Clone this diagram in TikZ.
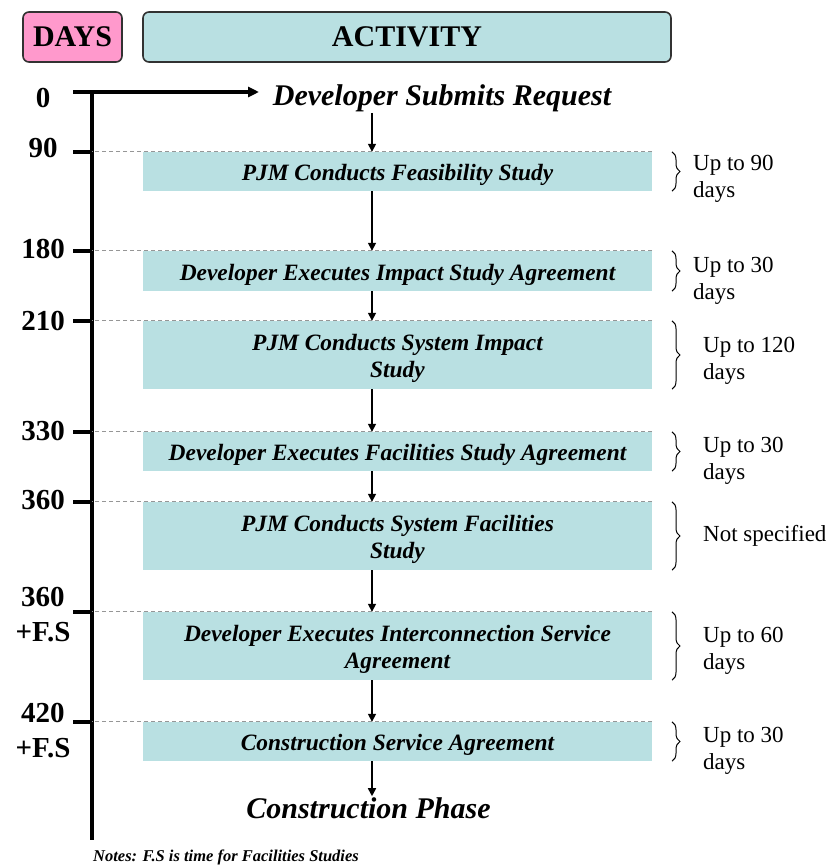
\documentclass[tikz,border=0pt]{standalone}
\usepackage{fontspec}
\setmainfont{Liberation Serif}
\usepackage{tikz}
\usetikzlibrary{arrows.meta,positioning,calc,decorations.pathreplacing}
\definecolor{frame}{RGB}{50,50,50}
\definecolor{act}{RGB}{185,224,226}
\definecolor{rose}{RGB}{255,153,204}
\definecolor{rule}{RGB}{150,150,150}

\begin{document}
\begin{tikzpicture}[x=1pt,y=-1pt,>={Triangle[length=8pt,width=8pt]},
 headbox/.style={draw=frame,line width=1.6pt,rounded corners=6pt,minimum height=50pt,inner sep=0pt,font=\fontsize{30}{34}\selectfont\bfseries},
 stagebox/.style={fill=act,minimum width=509pt,inner sep=0pt},
 stagetext/.style={yshift=-3.5pt,inner sep=0pt,align=center,font=\fontsize{23.4}{27}\selectfont\bfseries\itshape},
 daylabel/.style={align=center,font=\fontsize{29}{35}\selectfont\bfseries},
 durlabel/.style={anchor=west,align=left,inner sep=0pt,font=\fontsize{23}{27.5}\selectfont},
 daytick/.style={line width=4pt},
 levelline/.style={draw=rule,line width=1.2pt,dash pattern=on 4pt off 3pt},
 flowarrow/.style={->,line width=1.6pt},
 durbrace/.style={decorate,decoration={brace,amplitude=8pt},line width=1pt}]
 \useasboundingbox (0,0) rectangle (831,867);
 % column heads
 \node[headbox,fill=rose,minimum width=99pt] (days) at (72.5,37){DAYS};
 \node[headbox,fill=act,minimum width=528pt] (activity) at (407,37){ACTIVITY};
 % stages
 \node[stagebox,minimum height=39pt,label={[stagetext]center:PJM Conducts Feasibility Study}] (b1) at (397.5,171.5){};
 \node[stagebox,minimum height=40pt,label={[stagetext]center:Developer Executes Impact Study Agreement}] (b2) at (397.5,271){};
 \node[stagebox,minimum height=68pt,label={[stagetext]center:{PJM Conducts System Impact\\Study}}] (b3) at (397.5,355){};
 \node[stagebox,minimum height=39pt,label={[stagetext]center:Developer Executes Facilities Study Agreement}] (b4) at (397.5,451.5){};
 \node[stagebox,minimum height=68pt,label={[stagetext]center:{PJM Conducts System Facilities\\Study}}] (b5) at (397.5,536){};
 \node[stagebox,minimum height=68pt,label={[stagetext]center:{Developer Executes Interconnection Service\\Agreement}}] (b6) at (397.5,646){};
 \node[stagebox,minimum height=39pt,label={[stagetext]center:Construction Service Agreement}] (b7) at (397.5,741.5){};
 \node[font=\fontsize{30}{34}\selectfont\bfseries\itshape,inner sep=1pt] (req) at (442,98){Developer Submits Request};
 \node[font=\fontsize{30}{34}\selectfont\bfseries\itshape,inner sep=1pt] (build) at (368.5,808){Construction Phase};
 % time axis
 \coordinate (top) at (92,92);
 \coordinate (bottom) at (92,840);
 \coordinate (tail) at (73,92);
 \coordinate (tip) at (259,92);
 \draw[daytick] (top) -- (bottom);
 \draw[daytick,-{Triangle[length=11pt,width=10pt]}] (tail) -- (tip);
 % day levels: tick on the axis, dashed guide to the stage
 \draw[daytick] (b1.north -| tail) -- (b1.north -| top);
 \draw[daytick] (b2.north -| tail) -- (b2.north -| top);
 \draw[daytick] (b3.north -| tail) -- (b3.north -| top);
 \draw[daytick] (b4.north -| tail) -- (b4.north -| top);
 \draw[daytick] (b5.north -| tail) -- (b5.north -| top);
 \draw[daytick] (b6.north -| tail) -- (b6.north -| top);
 \draw[daytick] (b7.north -| tail) -- (b7.north -| top);
 \draw[levelline] (b1.north east) -- (b1.north east -| top);
 \draw[levelline] (b2.north east) -- (b2.north east -| top);
 \draw[levelline] (b3.north east) -- (b3.north east -| top);
 \draw[levelline] (b4.north east) -- (b4.north east -| top);
 \draw[levelline] (b5.north east) -- (b5.north east -| top);
 \draw[levelline] (b6.north east) -- (b6.north east -| top);
 \draw[levelline] (b7.north east) -- (b7.north east -| top);
 % day numbers
 \node[daylabel] (d0) at (43,98){0};
 \node[daylabel] (d90) at (43,148){90};
 \node[daylabel] (d180) at (43,249){180};
 \node[daylabel] (d210) at (43,321){210};
 \node[daylabel] (d330) at (43,431){330};
 \node[daylabel] (d360) at (43,500){360};
 \node[daylabel] (d360fs) at (43,614.5){360\\+F.S};
 \node[daylabel] (d420fs) at (43,730.5){420\\+F.S};
 % flow down the stages
 \coordinate (spine) at (372,0);
 \draw[flowarrow] (req.south -| spine) -- (b1.north -| spine);
 \draw[flowarrow] (b1.south -| spine) -- (b2.north -| spine);
 \draw[flowarrow] (b2.south -| spine) -- (b3.north -| spine);
 \draw[flowarrow] (b3.south -| spine) -- (b4.north -| spine);
 \draw[flowarrow] (b4.south -| spine) -- (b5.north -| spine);
 \draw[flowarrow] (b5.south -| spine) -- (b6.north -| spine);
 \draw[flowarrow] (b6.south -| spine) -- (b7.north -| spine);
 \draw[flowarrow] (b7.south -| spine) -- (build.north -| spine);
 % durations
 \coordinate (brx) at (672,0);
 \draw[durbrace] (b1.north -| brx) -- (b1.south -| brx);
 \draw[durbrace] (b2.north -| brx) -- (b2.south -| brx);
 \draw[durbrace] (b3.north -| brx) -- (b3.south -| brx);
 \draw[durbrace] (b4.north -| brx) -- (b4.south -| brx);
 \draw[durbrace] (b5.north -| brx) -- (b5.south -| brx);
 \draw[durbrace] (b6.north -| brx) -- (b6.south -| brx);
 \draw[durbrace] (b7.north -| brx) -- (b7.south -| brx);
 \node[durlabel] (u1) at (693,179){Up to 90\\days};
 \node[durlabel] (u2) at (693,281){Up to 30\\days};
 \node[durlabel] (u3) at (703,361){Up to 120\\days};
 \node[durlabel] (u4) at (703,461){Up to 30\\days};
 \node[durlabel] (u5) at (703,536){Not specified};
 \node[durlabel] (u6) at (703,651){Up to 60\\days};
 \node[durlabel] (u7) at (703,751){Up to 30\\days};
 % footnote
 \node[anchor=west,inner sep=0pt,font=\fontsize{16.5}{19}\selectfont\bfseries\itshape] (notes) at (93,857){Notes: F.S is time for Facilities Studies};
\end{tikzpicture}
\end{document}
